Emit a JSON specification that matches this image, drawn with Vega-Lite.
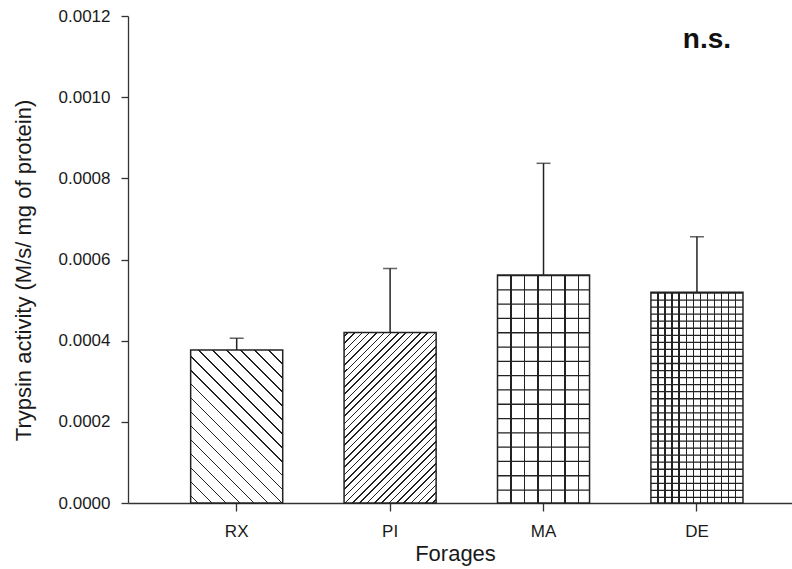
{
  "$schema": "https://vega.github.io/schema/vega-lite/v6.json",
  "width": 664,
  "height": 487,
  "autosize": "none",
  "padding": {"left": 128, "top": 16, "right": 0, "bottom": 66},
  "background": "white",
  "config": {"view": {"stroke": null}, "font": "Liberation Sans"},
  "data": {
    "values": [
      {"forage": "RX", "mean": 0.000377, "upper": 0.000406},
      {"forage": "PI", "mean": 0.00042, "upper": 0.000578},
      {"forage": "MA", "mean": 0.000562, "upper": 0.000837},
      {"forage": "DE", "mean": 0.000519, "upper": 0.000656}
    ]
  },
  "encoding": {
    "x": {
      "field": "forage",
      "type": "nominal",
      "scale": {"domain": ["RX", "PI", "MA", "DE"], "paddingInner": 0.4, "paddingOuter": 0.364, "align": 0.561},
      "axis": {
        "title": "Forages",
        "labelAngle": 0,
        "labelFontSize": 17,
        "labelFont": "Liberation Sans",
        "labelColor": "#1a1a1a",
        "labelPadding": 12,
        "tickSize": 8,
        "tickColor": "#333",
        "tickWidth": 1.3,
        "domainColor": "#333",
        "domainWidth": 1.3,
        "titleFontSize": 22,
        "titleFont": "Liberation Sans",
        "titleFontWeight": "normal",
        "titleColor": "#1a1a1a",
        "titlePadding": 4,
        "titleX": 327,
        "grid": false
      }
    },
    "y": {
      "field": "mean",
      "type": "quantitative",
      "scale": {"domain": [0, 0.0012], "nice": false},
      "axis": {
        "title": "Trypsin activity (M/s/ mg of protein)",
        "values": [0, 0.0002, 0.0004, 0.0006, 0.0008, 0.001, 0.0012],
        "format": ".4f",
        "labelFontSize": 17,
        "labelFont": "Liberation Sans",
        "labelColor": "#1a1a1a",
        "labelPadding": 11,
        "tickSize": 7,
        "tickColor": "#333",
        "tickWidth": 1.3,
        "domainColor": "#333",
        "domainWidth": 1.3,
        "titleFontSize": 22,
        "titleFont": "Liberation Sans",
        "titleFontWeight": "normal",
        "titleColor": "#1a1a1a",
        "titlePadding": 23,
        "titleY": 254,
        "grid": false
      }
    }
  },
  "layer": [
    {
      "mark": {"type": "rule", "color": "#222", "strokeWidth": 1.5},
      "encoding": {"y2": {"field": "upper"}}
    },
    {
      "mark": {"type": "tick", "color": "#222", "thickness": 1.5, "size": 14},
      "encoding": {"y": {"field": "upper", "type": "quantitative", "title": "Trypsin activity (M/s/ mg of protein)"}}
    },
    {
      "transform": [{"filter": "datum.forage === 'RX'"}],
      "mark": {
        "type": "bar",
        "fill": {
          "gradient": "linear", "x1": 0, "y1": 1, "x2": 0.7074, "y2": -0.176,
          "stops": [
            {"offset": 0, "color": "#fff"},
            {"offset": 0.027, "color": "#fff"}, {"offset": 0.027, "color": "#222"}, {"offset": 0.033, "color": "#222"}, {"offset": 0.033, "color": "#fff"},
            {"offset": 0.084, "color": "#fff"}, {"offset": 0.084, "color": "#222"}, {"offset": 0.090, "color": "#222"}, {"offset": 0.090, "color": "#fff"},
            {"offset": 0.141, "color": "#fff"}, {"offset": 0.141, "color": "#222"}, {"offset": 0.147, "color": "#222"}, {"offset": 0.147, "color": "#fff"},
            {"offset": 0.198, "color": "#fff"}, {"offset": 0.198, "color": "#222"}, {"offset": 0.204, "color": "#222"}, {"offset": 0.204, "color": "#fff"},
            {"offset": 0.255, "color": "#fff"}, {"offset": 0.255, "color": "#222"}, {"offset": 0.261, "color": "#222"}, {"offset": 0.261, "color": "#fff"},
            {"offset": 0.312, "color": "#fff"}, {"offset": 0.312, "color": "#222"}, {"offset": 0.318, "color": "#222"}, {"offset": 0.318, "color": "#fff"},
            {"offset": 0.369, "color": "#fff"}, {"offset": 0.369, "color": "#222"}, {"offset": 0.375, "color": "#222"}, {"offset": 0.375, "color": "#fff"},
            {"offset": 0.426, "color": "#fff"}, {"offset": 0.426, "color": "#222"}, {"offset": 0.432, "color": "#222"}, {"offset": 0.432, "color": "#fff"},
            {"offset": 0.483, "color": "#fff"}, {"offset": 0.483, "color": "#222"}, {"offset": 0.489, "color": "#222"}, {"offset": 0.489, "color": "#fff"},
            {"offset": 0.540, "color": "#fff"}, {"offset": 0.540, "color": "#222"}, {"offset": 0.546, "color": "#222"}, {"offset": 0.546, "color": "#fff"},
            {"offset": 0.597, "color": "#fff"}, {"offset": 0.597, "color": "#222"}, {"offset": 0.603, "color": "#222"}, {"offset": 0.603, "color": "#fff"},
            {"offset": 0.654, "color": "#fff"}, {"offset": 0.654, "color": "#222"}, {"offset": 0.660, "color": "#222"}, {"offset": 0.660, "color": "#fff"},
            {"offset": 0.711, "color": "#fff"}, {"offset": 0.711, "color": "#222"}, {"offset": 0.717, "color": "#222"}, {"offset": 0.717, "color": "#fff"},
            {"offset": 0.768, "color": "#fff"}, {"offset": 0.768, "color": "#222"}, {"offset": 0.774, "color": "#222"}, {"offset": 0.774, "color": "#fff"},
            {"offset": 0.825, "color": "#fff"}, {"offset": 0.825, "color": "#222"}, {"offset": 0.831, "color": "#222"}, {"offset": 0.831, "color": "#fff"},
            {"offset": 0.882, "color": "#fff"}, {"offset": 0.882, "color": "#222"}, {"offset": 0.888, "color": "#222"}, {"offset": 0.888, "color": "#fff"},
            {"offset": 0.939, "color": "#fff"}, {"offset": 0.939, "color": "#222"}, {"offset": 0.945, "color": "#222"}, {"offset": 0.945, "color": "#fff"},
            {"offset": 1, "color": "#fff"}
          ]
        }
      }
    },
    {
      "transform": [{"filter": "datum.forage === 'PI'"}],
      "mark": {
        "type": "bar",
        "fill": {
          "gradient": "linear", "x1": 0, "y1": 0, "x2": 0.6438, "y2": 1.1923,
          "stops": [
            {"offset": 0, "color": "#fff"},
            {"offset": 0.0110, "color": "#fff"}, {"offset": 0.0110, "color": "#222"}, {"offset": 0.0170, "color": "#222"}, {"offset": 0.0170, "color": "#fff"},
            {"offset": 0.0388, "color": "#fff"}, {"offset": 0.0388, "color": "#222"}, {"offset": 0.0448, "color": "#222"}, {"offset": 0.0448, "color": "#fff"},
            {"offset": 0.0666, "color": "#fff"}, {"offset": 0.0666, "color": "#222"}, {"offset": 0.0726, "color": "#222"}, {"offset": 0.0726, "color": "#fff"},
            {"offset": 0.0944, "color": "#fff"}, {"offset": 0.0944, "color": "#222"}, {"offset": 0.1004, "color": "#222"}, {"offset": 0.1004, "color": "#fff"},
            {"offset": 0.1222, "color": "#fff"}, {"offset": 0.1222, "color": "#222"}, {"offset": 0.1282, "color": "#222"}, {"offset": 0.1282, "color": "#fff"},
            {"offset": 0.1500, "color": "#fff"}, {"offset": 0.1500, "color": "#222"}, {"offset": 0.1560, "color": "#222"}, {"offset": 0.1560, "color": "#fff"},
            {"offset": 0.1778, "color": "#fff"}, {"offset": 0.1778, "color": "#222"}, {"offset": 0.1838, "color": "#222"}, {"offset": 0.1838, "color": "#fff"},
            {"offset": 0.2056, "color": "#fff"}, {"offset": 0.2056, "color": "#222"}, {"offset": 0.2116, "color": "#222"}, {"offset": 0.2116, "color": "#fff"},
            {"offset": 0.2334, "color": "#fff"}, {"offset": 0.2334, "color": "#222"}, {"offset": 0.2394, "color": "#222"}, {"offset": 0.2394, "color": "#fff"},
            {"offset": 0.2612, "color": "#fff"}, {"offset": 0.2612, "color": "#222"}, {"offset": 0.2672, "color": "#222"}, {"offset": 0.2672, "color": "#fff"},
            {"offset": 0.2890, "color": "#fff"}, {"offset": 0.2890, "color": "#222"}, {"offset": 0.2950, "color": "#222"}, {"offset": 0.2950, "color": "#fff"},
            {"offset": 0.3168, "color": "#fff"}, {"offset": 0.3168, "color": "#222"}, {"offset": 0.3228, "color": "#222"}, {"offset": 0.3228, "color": "#fff"},
            {"offset": 0.3446, "color": "#fff"}, {"offset": 0.3446, "color": "#222"}, {"offset": 0.3506, "color": "#222"}, {"offset": 0.3506, "color": "#fff"},
            {"offset": 0.3724, "color": "#fff"}, {"offset": 0.3724, "color": "#222"}, {"offset": 0.3784, "color": "#222"}, {"offset": 0.3784, "color": "#fff"},
            {"offset": 0.4002, "color": "#fff"}, {"offset": 0.4002, "color": "#222"}, {"offset": 0.4062, "color": "#222"}, {"offset": 0.4062, "color": "#fff"},
            {"offset": 0.4280, "color": "#fff"}, {"offset": 0.4280, "color": "#222"}, {"offset": 0.4340, "color": "#222"}, {"offset": 0.4340, "color": "#fff"},
            {"offset": 0.4558, "color": "#fff"}, {"offset": 0.4558, "color": "#222"}, {"offset": 0.4618, "color": "#222"}, {"offset": 0.4618, "color": "#fff"},
            {"offset": 0.4836, "color": "#fff"}, {"offset": 0.4836, "color": "#222"}, {"offset": 0.4896, "color": "#222"}, {"offset": 0.4896, "color": "#fff"},
            {"offset": 0.5114, "color": "#fff"}, {"offset": 0.5114, "color": "#222"}, {"offset": 0.5174, "color": "#222"}, {"offset": 0.5174, "color": "#fff"},
            {"offset": 0.5392, "color": "#fff"}, {"offset": 0.5392, "color": "#222"}, {"offset": 0.5452, "color": "#222"}, {"offset": 0.5452, "color": "#fff"},
            {"offset": 0.5670, "color": "#fff"}, {"offset": 0.5670, "color": "#222"}, {"offset": 0.5730, "color": "#222"}, {"offset": 0.5730, "color": "#fff"},
            {"offset": 0.5948, "color": "#fff"}, {"offset": 0.5948, "color": "#222"}, {"offset": 0.6008, "color": "#222"}, {"offset": 0.6008, "color": "#fff"},
            {"offset": 0.6226, "color": "#fff"}, {"offset": 0.6226, "color": "#222"}, {"offset": 0.6286, "color": "#222"}, {"offset": 0.6286, "color": "#fff"},
            {"offset": 0.6504, "color": "#fff"}, {"offset": 0.6504, "color": "#222"}, {"offset": 0.6564, "color": "#222"}, {"offset": 0.6564, "color": "#fff"},
            {"offset": 0.6782, "color": "#fff"}, {"offset": 0.6782, "color": "#222"}, {"offset": 0.6842, "color": "#222"}, {"offset": 0.6842, "color": "#fff"},
            {"offset": 0.7060, "color": "#fff"}, {"offset": 0.7060, "color": "#222"}, {"offset": 0.7120, "color": "#222"}, {"offset": 0.7120, "color": "#fff"},
            {"offset": 0.7338, "color": "#fff"}, {"offset": 0.7338, "color": "#222"}, {"offset": 0.7398, "color": "#222"}, {"offset": 0.7398, "color": "#fff"},
            {"offset": 0.7616, "color": "#fff"}, {"offset": 0.7616, "color": "#222"}, {"offset": 0.7676, "color": "#222"}, {"offset": 0.7676, "color": "#fff"},
            {"offset": 0.7894, "color": "#fff"}, {"offset": 0.7894, "color": "#222"}, {"offset": 0.7954, "color": "#222"}, {"offset": 0.7954, "color": "#fff"},
            {"offset": 0.8172, "color": "#fff"}, {"offset": 0.8172, "color": "#222"}, {"offset": 0.8232, "color": "#222"}, {"offset": 0.8232, "color": "#fff"},
            {"offset": 0.8450, "color": "#fff"}, {"offset": 0.8450, "color": "#222"}, {"offset": 0.8510, "color": "#222"}, {"offset": 0.8510, "color": "#fff"},
            {"offset": 0.8728, "color": "#fff"}, {"offset": 0.8728, "color": "#222"}, {"offset": 0.8788, "color": "#222"}, {"offset": 0.8788, "color": "#fff"},
            {"offset": 0.9006, "color": "#fff"}, {"offset": 0.9006, "color": "#222"}, {"offset": 0.9066, "color": "#222"}, {"offset": 0.9066, "color": "#fff"},
            {"offset": 0.9284, "color": "#fff"}, {"offset": 0.9284, "color": "#222"}, {"offset": 0.9344, "color": "#222"}, {"offset": 0.9344, "color": "#fff"},
            {"offset": 0.9562, "color": "#fff"}, {"offset": 0.9562, "color": "#222"}, {"offset": 0.9622, "color": "#222"}, {"offset": 0.9622, "color": "#fff"},
            {"offset": 0.9840, "color": "#fff"}, {"offset": 0.9840, "color": "#222"}, {"offset": 0.9900, "color": "#222"}, {"offset": 0.9900, "color": "#fff"},
            {"offset": 1, "color": "#fff"}
          ]
        }
      }
    },
    {
      "transform": [{"filter": "datum.forage === 'MA'"}],
      "mark": {
        "type": "bar",
        "fill": {
          "gradient": "linear", "x1": 0, "y1": 0, "x2": 1, "y2": 0,
          "stops": [
            {"offset": 0, "color": "#fff"},
            {"offset": 0.1397, "color": "#fff"}, {"offset": 0.1397, "color": "#222"}, {"offset": 0.1537, "color": "#222"}, {"offset": 0.1537, "color": "#fff"},
            {"offset": 0.2864, "color": "#fff"}, {"offset": 0.2864, "color": "#222"}, {"offset": 0.3004, "color": "#222"}, {"offset": 0.3004, "color": "#fff"},
            {"offset": 0.4331, "color": "#fff"}, {"offset": 0.4331, "color": "#222"}, {"offset": 0.4471, "color": "#222"}, {"offset": 0.4471, "color": "#fff"},
            {"offset": 0.5798, "color": "#fff"}, {"offset": 0.5798, "color": "#222"}, {"offset": 0.5938, "color": "#222"}, {"offset": 0.5938, "color": "#fff"},
            {"offset": 0.7265, "color": "#fff"}, {"offset": 0.7265, "color": "#222"}, {"offset": 0.7405, "color": "#222"}, {"offset": 0.7405, "color": "#fff"},
            {"offset": 0.8732, "color": "#fff"}, {"offset": 0.8732, "color": "#222"}, {"offset": 0.8872, "color": "#222"}, {"offset": 0.8872, "color": "#fff"},
            {"offset": 1, "color": "#fff"}
          ]
        }
      }
    },
    {
      "transform": [{"filter": "datum.forage === 'DE'"}],
      "mark": {
        "type": "bar",
        "fill": {
          "gradient": "linear", "x1": 0, "y1": 0, "x2": 1, "y2": 0,
          "stops": [
            {"offset": 0, "color": "#fff"},
            {"offset": 0.0696, "color": "#fff"}, {"offset": 0.0696, "color": "#222"}, {"offset": 0.0836, "color": "#222"}, {"offset": 0.0836, "color": "#fff"},
            {"offset": 0.1462, "color": "#fff"}, {"offset": 0.1462, "color": "#222"}, {"offset": 0.1602, "color": "#222"}, {"offset": 0.1602, "color": "#fff"},
            {"offset": 0.2228, "color": "#fff"}, {"offset": 0.2228, "color": "#222"}, {"offset": 0.2368, "color": "#222"}, {"offset": 0.2368, "color": "#fff"},
            {"offset": 0.2994, "color": "#fff"}, {"offset": 0.2994, "color": "#222"}, {"offset": 0.3134, "color": "#222"}, {"offset": 0.3134, "color": "#fff"},
            {"offset": 0.3760, "color": "#fff"}, {"offset": 0.3760, "color": "#222"}, {"offset": 0.3900, "color": "#222"}, {"offset": 0.3900, "color": "#fff"},
            {"offset": 0.4526, "color": "#fff"}, {"offset": 0.4526, "color": "#222"}, {"offset": 0.4666, "color": "#222"}, {"offset": 0.4666, "color": "#fff"},
            {"offset": 0.5292, "color": "#fff"}, {"offset": 0.5292, "color": "#222"}, {"offset": 0.5432, "color": "#222"}, {"offset": 0.5432, "color": "#fff"},
            {"offset": 0.6058, "color": "#fff"}, {"offset": 0.6058, "color": "#222"}, {"offset": 0.6198, "color": "#222"}, {"offset": 0.6198, "color": "#fff"},
            {"offset": 0.6824, "color": "#fff"}, {"offset": 0.6824, "color": "#222"}, {"offset": 0.6964, "color": "#222"}, {"offset": 0.6964, "color": "#fff"},
            {"offset": 0.7590, "color": "#fff"}, {"offset": 0.7590, "color": "#222"}, {"offset": 0.7730, "color": "#222"}, {"offset": 0.7730, "color": "#fff"},
            {"offset": 0.8356, "color": "#fff"}, {"offset": 0.8356, "color": "#222"}, {"offset": 0.8496, "color": "#222"}, {"offset": 0.8496, "color": "#fff"},
            {"offset": 0.9122, "color": "#fff"}, {"offset": 0.9122, "color": "#222"}, {"offset": 0.9262, "color": "#222"}, {"offset": 0.9262, "color": "#fff"},
            {"offset": 1, "color": "#fff"}
          ]
        }
      }
    },
    {
      "transform": [{"filter": "datum.forage === 'MA'"}],
      "mark": {"type": "rule", "strokeWidth": 92, "strokeDash": [1.3, 13], "color": "#222"},
      "encoding": {"y2": {"datum": 0}}
    },
    {
      "transform": [{"filter": "datum.forage === 'DE'"}],
      "mark": {"type": "rule", "strokeWidth": 92, "strokeDash": [1.3, 5.75], "color": "#222"},
      "encoding": {"y2": {"datum": 0}}
    },
    {
      "mark": {"type": "bar", "fillOpacity": 0, "stroke": "#222", "strokeWidth": 1.5}
    },
    {
      "transform": [{"filter": "datum.forage === 'DE'"}],
      "mark": {"type": "text", "text": "n.s.", "font": "Liberation Sans", "fontSize": 28, "fontWeight": "bold", "dx": 10, "align": "center", "baseline": "alphabetic", "fill": "#111"},
      "encoding": {
        "y": {"datum": 0.001121, "type": "quantitative", "title": "Trypsin activity (M/s/ mg of protein)"}
      }
    }
  ]
}
